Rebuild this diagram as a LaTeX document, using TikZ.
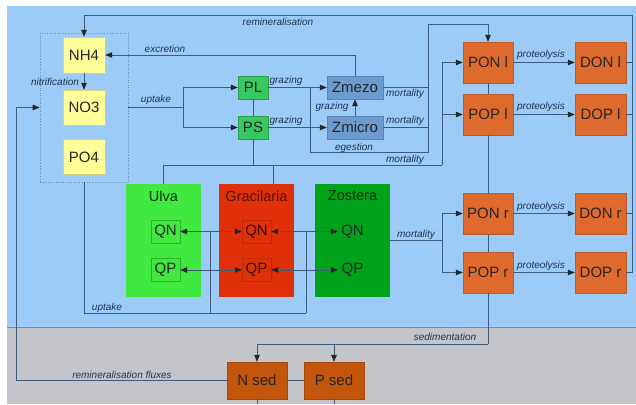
\documentclass[tikz,border=0pt]{standalone}
\usepackage{fontspec}
\setmainfont{Liberation Sans}
\usetikzlibrary{arrows.meta}
\definecolor{bgblue}{HTML}{9CCBF8}
\definecolor{sedgrey}{HTML}{C4C5CA}
\definecolor{linec}{HTML}{3D5B7D}
\definecolor{labc}{HTML}{1E3350}
\definecolor{nutyel}{HTML}{FFFF99}
\definecolor{phygreen}{HTML}{38C860}
\definecolor{zooblue}{HTML}{6E9BCF}
\definecolor{detor}{HTML}{DF6A2E}
\definecolor{sedor}{HTML}{C4550C}
\definecolor{ulvag}{HTML}{40E840}
\definecolor{gracr}{HTML}{E0300A}
\definecolor{zostg}{HTML}{00A21A}
\tikzset{
  x=1pt, y=-1pt,
  conn/.style={draw=linec, line width=0.7pt},
  >={Triangle[length=7pt,width=5.5pt,color=black!85]},
  boxbase/.style={inner sep=0pt, font=\fontsize{15}{15}\selectfont, text=black!85},
  nutbox/.style={boxbase, fill=nutyel, draw=yellow!70!black!60, minimum width=42pt, minimum height=35pt},
  phybox/.style={boxbase, fill=phygreen, draw=phygreen!80!black, minimum width=30pt, minimum height=23pt},
  zoobox/.style={boxbase, fill=zooblue, draw=zooblue!85!black, minimum width=56pt, minimum height=23pt},
  detbox/.style={boxbase, fill=detor, draw=detor!85!black, minimum width=50pt, minimum height=41pt},
  sedbox/.style={boxbase, fill=sedor, draw=sedor!85!black, minimum width=60pt, minimum height=37pt},
  algbox/.style={inner sep=0pt, minimum width=75pt, minimum height=113pt},
  qbox/.style={boxbase, minimum width=29pt, minimum height=23pt},
  head/.style={font=\fontsize{14.5}{14.5}\selectfont},
  lab/.style={font=\fontsize{10}{10}\selectfont\itshape, text=labc, inner sep=0pt},
}
\begin{document}
\begin{tikzpicture}
\useasboundingbox (0,0) rectangle (636,404);
\fill[white] (0,0) rectangle (636,404);
\fill[bgblue] (7,6) rectangle (636,327);
\fill[sedgrey] (7,327) rectangle (636,404);
\draw[linec!70, line width=0.6pt] (7,327) -- (636,327);

% dissolved pool
\node[draw=linec!70, dotted, line width=0.6pt, minimum width=88pt, minimum height=149pt, inner sep=0pt] (pool) at (84,107.5) {};
\node[nutbox, minimum height=36pt] (NH4) at (84,55) {NH4};
\node[nutbox] (NO3) at (84,107.5) {NO3};
\node[nutbox] (PO4) at (84,157) {PO4};

% phytoplankton & zooplankton
\node[phybox] (PL) at (253,87.5) {PL};
\node[phybox] (PS) at (253,127.5) {PS};
\node[zoobox] (Zmezo) at (355,87.5) {Zmezo};
\node[zoobox] (Zmicro) at (355,127.5) {Zmicro};

% detritus
\node[detbox] (PONl) at (488,62.5) {PON l};
\node[detbox] (POPl) at (488,114.5) {POP l};
\node[detbox, minimum width=51pt] (DONl) at (600.5,62.5) {DON l};
\node[detbox, minimum width=51pt] (DOPl) at (600.5,114.5) {DOP l};
\node[detbox] (PONr) at (488,213.5) {PON r};
\node[detbox] (POPr) at (488,272.5) {POP r};
\node[detbox, minimum width=51pt] (DONr) at (600.5,213.5) {DON r};
\node[detbox, minimum width=51pt] (DOPr) at (600.5,272.5) {DOP r};

% macrophytes
\node[algbox, fill=ulvag] (Ulva) at (163.5,240.5) {};
\node[algbox, fill=gracr] (Graci) at (256.5,240.5) {};
\node[algbox, fill=zostg] (Zost) at (352.5,240.5) {};
\node[head, text=black!80!green] (UlvaT) at (163.5,196) {Ulva};
\node[head, text=gracr!40!black] (GraciT) at (256.5,196) {Gracilaria};
\node[head, text=black!80!green] (ZostT) at (352.5,196) {Zostera};
\node[qbox, draw=ulvag!75!black] (UQN) at (165.5,231.5) {QN};
\node[qbox, draw=ulvag!75!black] (UQP) at (165.5,270) {QP};
\node[qbox, draw=gracr!85!black, text=gracr!25!black] (GQN) at (256.5,231.5) {QN};
\node[qbox, draw=gracr!85!black, text=gracr!25!black] (GQP) at (256.5,270) {QP};
\node[qbox] (ZQN) at (352.5,231.5) {QN};
\node[qbox] (ZQP) at (352.5,270) {QP};

% sediment
\node[sedbox] (Nsed) at (257,380.5) {N sed};
\node[sedbox] (Psed) at (334,380.5) {P sed};

% coordinates
\coordinate (rR) at (632,15);
\coordinate (up1) at (183,107.5);
\coordinate (m1) at (253,165);
\coordinate (mL) at (163.5,165);
\coordinate (mG) at (273,165);
\coordinate (mR) at (442,165);
\coordinate (e1) at (310,87.5);
\coordinate (e2) at (310,152);
\coordinate (e3) at (428,152);
\coordinate (e4) at (428,24);
\coordinate (s1) at (488,344);
\coordinate (zm) at (442,240.5);
\coordinate (uA) at (210,313);
\coordinate (uB) at (306,313);
\coordinate (rf1) at (16,380.5);
\coordinate (rf2) at (16,107.5);
\coordinate (nb) at (257,404);
\coordinate (pb) at (334,404);

% remineralisation
\draw[conn] (DONl.east) -- (DONl.east -| rR);
\draw[conn] (DOPl.east) -- (DOPl.east -| rR);
\draw[conn] (DONr.east) -- (DONr.east -| rR);
\draw[conn] (DOPr.east) -- (DOPr.east -| rR);
\draw[conn, ->] (DOPr.east -| rR) -- (rR) -| (NH4.north);
\node[lab] (lremin) at (278,22) {remineralisation};

% excretion
\draw[conn, ->] (Zmezo.north) |- (NH4.east);
\node[lab] (lexcr) at (165,49) {excretion};

% nitrification
\draw[conn, ->] (NH4) -- (NO3);
\node[lab] (lnitr) at (55,82) {nitrification};

% uptake by phytoplankton
\draw[conn] (pool.east) -- (up1);
\draw[conn, ->] (up1) |- (PL.west);
\draw[conn, ->] (up1) |- (PS.west);
\node[lab] (lupt) at (156,100) {uptake};
\draw[conn] (PL) -- (PS);

% phytoplankton mortality
\draw[conn] (PS.south) -- (m1);
\draw[conn] (mL) -- (mR);
\draw[conn] (mL) -- (Ulva.north);
\draw[conn] (mG) -- (mG |- Graci.north);
\draw[conn, ->] (mR) |- (PONl.west);
\draw[conn, ->] (mR) |- (POPl.west);
\node[lab] (lmort1) at (405,160) {mortality};

% grazing
\draw[conn, ->] (PL) -- (Zmezo);
\draw[conn, ->] (PS) -- (Zmicro);
\draw[conn, ->] (Zmicro) -- (Zmezo);
\node[lab] (lgr1) at (286,81) {grazing};
\node[lab] (lgr2) at (286,121) {grazing};
\node[lab] (lgr3) at (332,107) {grazing};

% egestion & zooplankton mortality
\draw[conn, ->] (e1) -- (e2) -- (e3) -- (e4) -| (PONl.north);
\draw[conn] (Zmezo.east) -- (Zmezo.east -| e3);
\draw[conn] (Zmicro.east) -- (Zmicro.east -| e3);
\node[lab] (legest) at (354,148) {egestion};
\node[lab] (lmort2) at (405,94) {mortality};
\node[lab] (lmort3) at (405,121) {mortality};

% proteolysis
\draw[conn, ->] (PONl) -- (DONl);
\draw[conn, ->] (POPl) -- (DOPl);
\draw[conn, ->] (PONr) -- (DONr);
\draw[conn, ->] (POPr) -- (DOPr);
\node[lab] (lp1) at (541,55) {proteolysis};
\node[lab] (lp2) at (541,107) {proteolysis};
\node[lab] (lp3) at (541,206.5) {proteolysis};
\node[lab] (lp4) at (541,265.5) {proteolysis};

% detritus links
\draw[conn] (PONl) -- (POPl);
\draw[conn] (POPl) -- (PONr);
\draw[conn] (PONr) -- (POPr);

% Zostera mortality
\draw[conn] (Zost.east) -- (zm);
\draw[conn, ->] (zm) |- (PONr.west);
\draw[conn, ->] (zm) |- (POPr.west);
\node[lab] (lmort4) at (416,235) {mortality};

% macrophyte uptake
\draw[conn] (pool.south) |- (uB);
\draw[conn] (uA) -- (uA |- UQN);
\draw[conn] (uB) -- (uB |- GQN);
\draw[conn, <->] (UQN) -- (GQN);
\draw[conn, <->] (UQP) -- (GQP);
\draw[conn, <->] (GQN) -- (ZQN);
\draw[conn, <->] (GQP) -- (ZQP);
\node[lab] (lupt2) at (107,308) {uptake};

% sedimentation
\draw[conn] (POPr.south) -- (s1);
\draw[conn, ->] (s1) -| (Nsed.north);
\draw[conn, ->] (s1) -| (Psed.north);
\node[lab] (lsed) at (445,337) {sedimentation};

% remineralisation fluxes
\draw[conn, ->] (Nsed.west) -- (rf1) -- (rf2) -- (pool.west);
\node[lab] (lrf) at (122,375) {remineralisation fluxes};
\draw[conn] (Nsed) -- (Psed);
\draw[conn] (Nsed.south) -- (nb);
\draw[conn] (Psed.south) -- (pb);
\end{tikzpicture}
\end{document}
